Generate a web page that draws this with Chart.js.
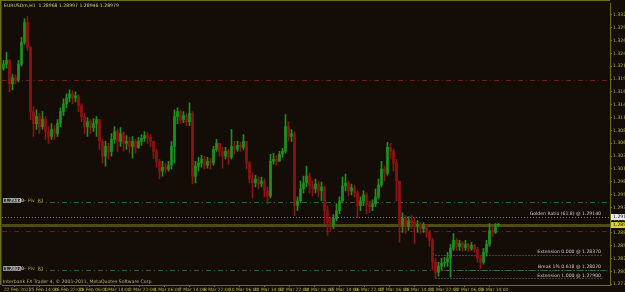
<!DOCTYPE html>
<html>
<head>
<meta charset="utf-8">
<script src="https://cdn.jsdelivr.net/npm/chart.js@4.4.1/dist/chart.umd.min.js"></script>
<style>
  html, body { margin: 0; padding: 0; background: #130c07; }
  #wrap { width: 625px; height: 292px; position: relative; }
</style>
</head>
<body>
<div id="wrap"><canvas id="chart" width="625" height="292"></canvas></div>
<script>
// EURUSDm H1 candles (open of each bar = previous close)
const symbol = 'EURUSDm,H1';
const firstOpen = 1.3214;
const closes = [
  1.3222, 1.3230, 1.3182, 1.3194, 1.3190, 1.3222, 1.3266, 1.3306, 1.3256, 1.3126,
  1.3102, 1.3116, 1.3096, 1.3110, 1.3086, 1.3076, 1.3090, 1.3082, 1.3102, 1.3126,
  1.3142, 1.3154, 1.3162, 1.3154, 1.3158, 1.3138, 1.3116, 1.3096, 1.3106, 1.3094,
  1.3102, 1.3110, 1.3066, 1.3036, 1.3056, 1.3046, 1.3070, 1.3086, 1.3066, 1.3082,
  1.3062, 1.3066, 1.3056, 1.3066, 1.3054, 1.3066, 1.3072, 1.3078, 1.3074, 1.3066,
  1.3046, 1.3026, 1.3006, 1.3014, 1.3010, 1.3018, 1.3056, 1.3116, 1.3126, 1.3110,
  1.3118, 1.3106, 1.3122, 1.2996, 1.3016, 1.3022, 1.3030, 1.3018, 1.3026, 1.3022,
  1.3050, 1.3062, 1.3046, 1.3036, 1.3046, 1.3034, 1.3056, 1.3050, 1.3058, 1.3054,
  1.3066, 1.3022, 1.2990, 1.2982, 1.2990, 1.2980, 1.2986, 1.2966, 1.2956, 1.3026,
  1.3030, 1.3026, 1.3040, 1.3046, 1.3096, 1.3076, 1.3082, 1.2936, 1.2946, 1.2970,
  1.2982, 1.2996, 1.2976, 1.2970, 1.2980, 1.2966, 1.2974, 1.2926, 1.2902, 1.2896,
  1.2910, 1.2926, 1.2946, 1.2976, 1.2982, 1.2966, 1.2972, 1.2962, 1.2936, 1.2946,
  1.2958, 1.2938, 1.2934, 1.2940, 1.2954, 1.2978, 1.3010, 1.3002, 1.3054, 1.3046,
  1.3022, 1.2986, 1.2896, 1.2910, 1.2894, 1.2906, 1.2902, 1.2896, 1.2898, 1.2890,
  1.2894, 1.2882, 1.2866, 1.2822, 1.2802, 1.2814, 1.2820, 1.2822, 1.2830, 1.2850,
  1.2866, 1.2854, 1.2860, 1.2852, 1.2858, 1.2850, 1.2856, 1.2848, 1.2830, 1.2822,
  1.2842, 1.2858, 1.2886, 1.2882, 1.28968, 1.28979
];
const highs = [
  1.3230, 1.3246, 1.3232, 1.3202, 1.3200, 1.3230, 1.3276, 1.3314, 1.3318, 1.3258,
  1.3136, 1.3130, 1.3122, 1.3126, 1.3116, 1.3096, 1.3102, 1.3098, 1.3110, 1.3134,
  1.3152, 1.3162, 1.3170, 1.3168, 1.3166, 1.3160, 1.3142, 1.3122, 1.3114, 1.3110,
  1.3112, 1.3116, 1.3110, 1.3070, 1.3066, 1.3062, 1.3082, 1.3096, 1.3090, 1.3094,
  1.3086, 1.3078, 1.3074, 1.3076, 1.3070, 1.3074, 1.3080, 1.3086, 1.3084, 1.3080,
  1.3066, 1.3050, 1.3030, 1.3026, 1.3022, 1.3026, 1.3066, 1.3130, 1.3134, 1.3130,
  1.3126, 1.3122, 1.3144, 1.3126, 1.3026, 1.3034, 1.3038, 1.3036, 1.3034, 1.3032,
  1.3056, 1.3070, 1.3062, 1.3054, 1.3054, 1.3050, 1.3090, 1.3066, 1.3066, 1.3064,
  1.3080, 1.3066, 1.3026, 1.3002, 1.2998, 1.2994, 1.2994, 1.2990, 1.2974, 1.3040,
  1.3042, 1.3038, 1.3046, 1.3052, 1.3120, 1.3106, 1.3090, 1.3086, 1.2954, 1.2986,
  1.2996, 1.3016, 1.3002, 1.2986, 1.2990, 1.2986, 1.2984, 1.2976, 1.2936, 1.2912,
  1.2918, 1.2940, 1.2954, 1.2994, 1.3000, 1.2986, 1.2980, 1.2978, 1.2966, 1.2954,
  1.2966, 1.2962, 1.2946, 1.2948, 1.2970, 1.2990, 1.3026, 1.3016, 1.3064, 1.3062,
  1.3050, 1.3030, 1.2986, 1.2922, 1.2916, 1.2914, 1.2916, 1.2912, 1.2906, 1.2902,
  1.2902, 1.2898, 1.2886, 1.2870, 1.2830, 1.2822, 1.2830, 1.2832, 1.2842, 1.2858,
  1.2880, 1.2870, 1.2866, 1.2864, 1.2866, 1.2860, 1.2862, 1.2858, 1.2852, 1.2836,
  1.2850, 1.2866, 1.2900, 1.2894, 1.2900, 1.28997
];
const lows = [
  1.3210, 1.3214, 1.3166, 1.3170, 1.3182, 1.3186, 1.3218, 1.3262, 1.3250, 1.3110,
  1.3076, 1.3090, 1.3082, 1.3090, 1.3070, 1.3062, 1.3070, 1.3070, 1.3076, 1.3096,
  1.3118, 1.3134, 1.3146, 1.3142, 1.3146, 1.3126, 1.3106, 1.3082, 1.3076, 1.3082,
  1.3086, 1.3076, 1.3050, 1.3022, 1.3016, 1.3030, 1.3036, 1.3062, 1.3046, 1.3056,
  1.3046, 1.3050, 1.3042, 1.3032, 1.3042, 1.3052, 1.3058, 1.3066, 1.3062, 1.3056,
  1.3032, 1.3014, 1.2990, 1.2996, 1.3002, 1.3006, 1.3010, 1.3022, 1.3102, 1.3102,
  1.3104, 1.3098, 1.3098, 1.2980, 1.2982, 1.3006, 1.3014, 1.3010, 1.3012, 1.3010,
  1.3018, 1.3046, 1.3036, 1.3012, 1.3030, 1.3020, 1.3030, 1.3040, 1.3046, 1.3046,
  1.3050, 1.3010, 1.2982, 1.2952, 1.2974, 1.2970, 1.2974, 1.2954, 1.2940, 1.2952,
  1.3020, 1.3018, 1.3026, 1.3034, 1.3042, 1.3066, 1.3066, 1.2916, 1.2926, 1.2942,
  1.2962, 1.2974, 1.2962, 1.2956, 1.2962, 1.2954, 1.2946, 1.2900, 1.2876, 1.2886,
  1.2890, 1.2906, 1.2920, 1.2942, 1.2966, 1.2956, 1.2958, 1.2954, 1.2912, 1.2926,
  1.2936, 1.2920, 1.2922, 1.2926, 1.2934, 1.2950, 1.2974, 1.2986, 1.2998, 1.3032,
  1.3006, 1.2946, 1.2862, 1.2882, 1.2880, 1.2886, 1.2890, 1.2860, 1.2882, 1.2880,
  1.2882, 1.2872, 1.2854, 1.2806, 1.2790, 1.2794, 1.2806, 1.2812, 1.2814, 1.2792,
  1.2846, 1.2846, 1.2846, 1.2844, 1.2846, 1.2844, 1.2846, 1.2842, 1.2822, 1.2810,
  1.2818, 1.2834, 1.2854, 1.2874, 1.2880, 1.28946
];
const opens = closes.map((c, i) => (i === 0 ? firstOpen : closes[i - 1]));

// price axis and time axis labels
const priceTicks = [
  1.33214, 1.32955, 1.32696, 1.32437, 1.32178, 1.31919, 1.31660, 1.31401,
  1.31142, 1.30883, 1.30624, 1.30365, 1.30106, 1.29847, 1.29588, 1.29329,
  1.29070, 1.28811, 1.28552, 1.28293, 1.28034, 1.27775
];
const timeLabels = [
  '22 Feb 2011', '25 Feb 14:00', '26 Feb 22:00', '28 Feb 06:00', '1 Mar 14:00',
  '2 Mar 22:00', '4 Mar 06:00', '7 Mar 14:00', '8 Mar 22:00', '10 Mar 06:00',
  '11 Mar 14:00', '12 Mar 22:00', '14 Mar 06:00', '15 Mar 14:00', '16 Mar 22:00',
  '17 Mar 06:00', '18 Mar 14:00', '21 Mar 22:00', '22 Mar 06:00', '23 Mar 14:00'
];

// horizontal levels
const redUpperLevel = 1.3191;
const greenUpperLevel = 1.2943;
const goldenRatio = 1.2914;
const redLowerLevel = 1.2886;
const extension0 = 1.2837;
const break618 = 1.2807;
const greenLowerLevel = 1.2807;
const extension1 = 1.2790;
const fiboStartBar = 144;

const BG = '#130c07';
const OLIVE = '#6e6e1c';
const AXIS_TEXT = '#b9b64a';
const UP = '#1f8f1f';
const DOWN = '#8e1212';
const PX_PER_BAR = 3;
const PLOT_W = 608;
const X_MIN = -0.5;
const X_MAX = X_MIN + PLOT_W / PX_PER_BAR;
const LABEL_STEP = 25 / PX_PER_BAR;

const candleColor = i => (closes[i] >= opens[i] ? UP : DOWN);
const wicks = closes.map((c, i) => ({
  x: i,
  y: [Math.min(lows[i], opens[i], c), Math.max(highs[i], opens[i], c)]
}));
const bodies = closes.map((c, i) => ({ x: i, y: [Math.min(opens[i], c), Math.max(opens[i], c)] }));

function hLine(ctx, y, x0, x1, color, dash, width) {
  ctx.save();
  ctx.strokeStyle = color;
  ctx.lineWidth = width || 1;
  ctx.setLineDash(dash);
  ctx.beginPath();
  ctx.moveTo(x0, Math.round(y) + 0.5);
  ctx.lineTo(x1, Math.round(y) + 0.5);
  ctx.stroke();
  ctx.restore();
}

const overlay = {
  id: 'overlay',
  beforeDraw(chart) {
    const { ctx, width, height } = chart;
    ctx.save();
    ctx.fillStyle = BG;
    ctx.fillRect(0, 0, width, height);
    ctx.restore();
  },
  beforeDatasetsDraw(chart) {
    const { ctx, chartArea: a, scales: { x, y } } = chart;
    const fx = x.getPixelForValue(fiboStartBar);
    hLine(ctx, y.getPixelForValue(redUpperLevel), a.left, a.right, '#7c1414', [5, 3, 1, 3]);
    hLine(ctx, y.getPixelForValue(greenUpperLevel), 38, a.right, '#1d6a1d', [5, 3, 1, 3]);
    hLine(ctx, y.getPixelForValue(goldenRatio), a.left, a.right, '#5f7f95', [1, 2]);
    hLine(ctx, y.getPixelForValue(redLowerLevel), a.left, a.right, '#7c1414', [5, 3, 1, 3]);
    hLine(ctx, y.getPixelForValue(greenLowerLevel), 38, a.right, '#1d6a1d', [5, 3, 1, 3]);
    hLine(ctx, y.getPixelForValue(extension0), fx, a.right - 8, '#5f7f95', [1, 2]);
    hLine(ctx, y.getPixelForValue(break618), fx, a.right - 8, '#5f7f95', [1, 2]);
    hLine(ctx, y.getPixelForValue(extension1), fx, a.right - 8, '#5f7f95', [1, 2]);
    // bid line
    const last = closes.length - 1;
    ctx.save();
    ctx.fillStyle = '#4d4c12';
    ctx.fillRect(a.left, Math.round(y.getPixelForValue(closes[last])) - 1, a.right - a.left, 3);
    ctx.restore();
  },
  afterDraw(chart) {
    const { ctx, chartArea: a, scales: { y } } = chart;
    const last = closes.length - 1;
    ctx.save();
    // frame top / left
    ctx.fillStyle = OLIVE;
    ctx.fillRect(0, 0, a.right, 1);
    ctx.fillRect(0, 0, 1.5, a.bottom);

    ctx.textBaseline = 'middle';
    ctx.font = '4.6px "DejaVu Sans"';
    ctx.fillStyle = '#d2cf86';
    ctx.textAlign = 'left';
    const title = symbol + '  ' + [opens[last], highs[last], lows[last], closes[last]]
      .map(v => v.toFixed(5)).join(' ');
    ctx.fillText(title, 4, 6);

    ctx.fillStyle = '#bdb977';
    ctx.fillText('Interbank FX Trader 4, \u00a9 2001-2011, MetaQuotes Software Corp.', 3, 282);

    // fibo labels
    ctx.fillStyle = '#c9c9c9';
    ctx.textAlign = 'right';
    const fib = [
      ['Golden Ratio (61.8) @ ', goldenRatio],
      ['Extension 0.000 @ ', extension0],
      ['Break 1% 0.618 @ ', break618],
      ['Extension 1.000 @ ', extension1]
    ];
    fib.forEach(([t, v]) => {
      ctx.fillText(t + v.toFixed(5), 601, y.getPixelForValue(v) - 2.5);
    });

    // left level tags
    [greenUpperLevel, greenLowerLevel].forEach(v => {
      const py = Math.round(y.getPixelForValue(v));
      ctx.fillStyle = '#8c8c8c';
      ctx.fillRect(3, py - 4, 18, 5);
      ctx.fillStyle = '#3a3a3a';
      ctx.fillRect(4, py - 3, 16, 3);
      ctx.fillStyle = '#e6e6e6';
      ctx.textAlign = 'left';
      ctx.fillText(v.toFixed(5), 5, py - 1.5);
      ctx.fillStyle = '#b7b23a';
      ctx.fillText('\u2014 Piv  R1', 22, py - 1.5);
    });

    // right axis markers
    const gy = Math.round(y.getPixelForValue(goldenRatio));
    ctx.fillStyle = '#e8e8e8';
    ctx.fillRect(611, gy - 3, 14, 6);
    const by = Math.round(y.getPixelForValue(closes[last]));
    ctx.fillStyle = '#d6d22a';
    ctx.fillRect(611, by - 3, 14, 6);
    ctx.fillStyle = '#111';
    ctx.textAlign = 'left';
    ctx.fillText(goldenRatio.toFixed(5), 613, gy);
    ctx.fillText(closes[last].toFixed(5), 613, by);
    ctx.restore();
  }
};

new Chart(document.getElementById('chart'), {
  type: 'bar',
  data: {
    datasets: [
      {
        label: 'wick',
        data: wicks,
        backgroundColor: c => candleColor(c.dataIndex),
        barThickness: 1,
        grouped: false,
        order: 2
      },
      {
        label: 'body',
        data: bodies,
        backgroundColor: c => candleColor(c.dataIndex),
        barThickness: 2,
        minBarLength: 1,
        grouped: false,
        order: 1
      }
    ]
  },
  options: {
    responsive: false,
    animation: false,
    layout: { padding: { left: 2, top: 1, right: 0, bottom: 0 } },
    plugins: { legend: { display: false }, tooltip: { enabled: false }, title: { display: false } },
    scales: {
      x: {
        type: 'linear',
        min: X_MIN,
        max: X_MAX,
        offset: false,
        afterBuildTicks: s => {
          s.ticks = timeLabels.map((_, k) => ({ value: X_MIN + k * LABEL_STEP }));
        },
        afterFit: s => { s.height = 7; },
        grid: { drawOnChartArea: false, color: OLIVE, tickLength: 2 },
        border: { color: OLIVE, width: 1 },
        ticks: {
          autoSkip: false,
          maxRotation: 0,
          minRotation: 0,
          align: 'start',
          labelOffset: 2,
          padding: 0,
          color: AXIS_TEXT,
          font: { family: 'DejaVu Sans', size: 4.4 },
          callback: (v, i) => timeLabels[i]
        }
      },
      y: {
        type: 'linear',
        position: 'right',
        min: 1.2776,
        max: 1.3344,
        afterBuildTicks: s => { s.ticks = priceTicks.map(v => ({ value: v })); },
        afterFit: s => { s.width = 15; },
        grid: { drawOnChartArea: false, color: OLIVE, tickLength: 2 },
        border: { color: OLIVE, width: 1 },
        ticks: {
          crossAlign: 'near',
          padding: 1,
          color: AXIS_TEXT,
          font: { family: 'DejaVu Sans', size: 4.6 },
          callback: v => v.toFixed(5)
        }
      }
    }
  },
  plugins: [overlay]
});
</script>
</body>
</html>
